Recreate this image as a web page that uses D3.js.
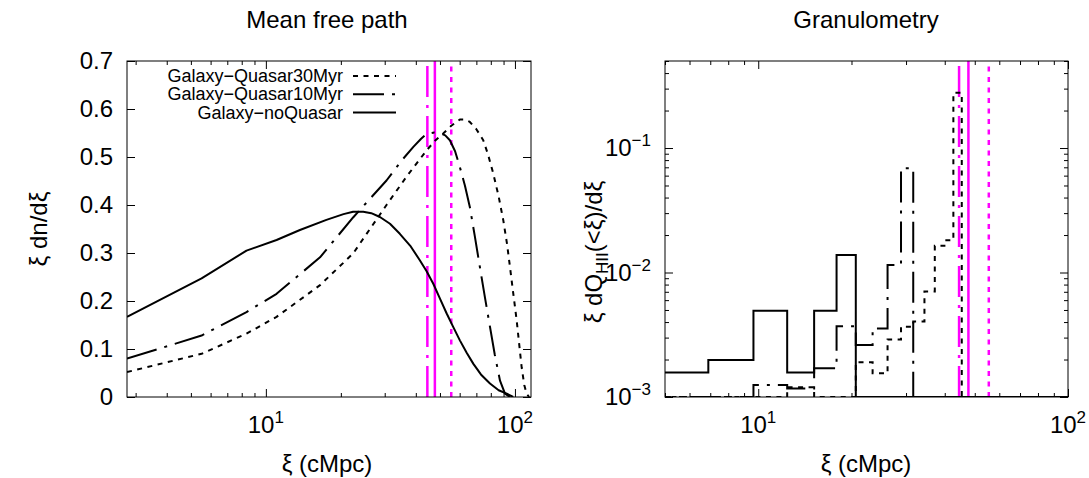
<!DOCTYPE html>
<html><head><meta charset="utf-8">
<script src="https://cdn.jsdelivr.net/npm/d3@7"></script>
<style>
body{margin:0;background:#fff}
text{font-family:"Liberation Sans",Arial,Helvetica,sans-serif;fill:#000}
</style>
</head><body>
<svg id="c" width="1089" height="478" xmlns="http://www.w3.org/2000/svg"></svg>
<script>
// ---------------- DATA ----------------
const seriesNames = ["Galaxy\u2212Quasar30Myr", "Galaxy\u2212Quasar10Myr", "Galaxy\u2212noQuasar"];

// Left panel: Mean free path distribution  (xi in cMpc, xi dn/dxi)
const mfpXRange = [2.77, 116];
const mfpYTicks = [0, 0.1, 0.2, 0.3, 0.4, 0.5, 0.6, 0.7];
const mfpXMajor = [10, 100];
const mfpXMinor = [3, 4, 5, 6, 7, 8, 9, 20, 30, 40, 50, 60, 70, 80, 90];

const q30X = [2.77, 5.52, 8.36, 11.04, 16.5, 22.4, 30.5, 36.7, 44.2, 48, 51.5, 55.5, 60.1, 63, 65.9, 70, 74.6, 78, 81.8, 86, 89.8, 93, 95.5, 98.5, 101.6, 104, 106.4, 109, 111.4, 114];
const q30Y = [0.052, 0.090, 0.132, 0.167, 0.233, 0.299, 0.400, 0.459, 0.514, 0.535, 0.549, 0.565, 0.578, 0.578, 0.573, 0.558, 0.535, 0.505, 0.466, 0.418, 0.368, 0.318, 0.271, 0.215, 0.160, 0.110, 0.062, 0.025, 0.007, 0];

const q10X = [2.77, 5.52, 8.36, 11.04, 16.5, 22.4, 30.5, 35, 39.1, 42, 44.2, 47.5, 50, 52.5, 54.8, 57.5, 60.1, 63, 65.9, 69, 72.3, 75.8, 79.4, 83, 87.1, 91.2, 95.5];
const q10Y = [0.080, 0.128, 0.177, 0.215, 0.291, 0.374, 0.451, 0.492, 0.521, 0.538, 0.548, 0.551, 0.550, 0.545, 0.535, 0.512, 0.479, 0.440, 0.396, 0.335, 0.271, 0.207, 0.146, 0.088, 0.034, 0.007, 0];

const noqX = [2.77, 5.52, 8.36, 11.04, 13.7, 17.5, 20.5, 22.4, 24.6, 26.5, 28.7, 31.5, 34.5, 38, 41.5, 44.2, 47, 50, 53.2, 56.5, 60.1, 64, 68.1, 73, 79.4, 86, 92.7, 98.4];
const noqY = [0.167, 0.247, 0.305, 0.327, 0.348, 0.369, 0.381, 0.386, 0.386, 0.383, 0.375, 0.361, 0.340, 0.315, 0.285, 0.262, 0.236, 0.205, 0.174, 0.146, 0.118, 0.092, 0.069, 0.047, 0.028, 0.014, 0.007, 0];

// Mean free path values (vertical magenta markers): 10Myr, noQuasar, 30Myr
const mfpMarkers = [44.5, 47.7, 55.5];
const mfpMarkerStyle = ["q10", "noq", "q30"];

// Right panel: Granulometry  (xi in cMpc, xi dQ_HII(<xi)/dxi), histogram bins
const granXRange = [5, 100];
const granYRange = [1e-3, 0.5];
const granXMajor = [10, 100];
const granXMinor = [5, 6, 7, 8, 9, 20, 30, 40, 50, 60, 70, 80, 90];
const granYMajor = [1e-3, 1e-2, 1e-1];
const granYMinor = [2e-3, 3e-3, 4e-3, 5e-3, 6e-3, 7e-3, 8e-3, 9e-3, 2e-2, 3e-2, 4e-2, 5e-2, 6e-2, 7e-2, 8e-2, 9e-2, 0.2, 0.3, 0.4, 0.5];
const granEdges = [4.15, 6.9, 9.65, 12.4, 15.15, 17.9, 20.65, 23.4, 26.15, 28.9, 31.65, 34.4, 37.15, 39.9, 42.65, 45.4, 48.15, 100];
const gran30 = [0, 0, 0, 1.2e-3, 0, 0, 1.9e-3, 1.55e-3, 2.9e-3, 3.67e-3, 4.05e-3, 7.05e-3, 0.0164, 0.0182, 0.278, 0, 0];
const gran10 = [0, 0, 1.25e-3, 1.17e-3, 1.7e-3, 3.7e-3, 2.62e-3, 3.55e-3, 0.0115, 0.0687, 0, 0, 0, 0, 0, 0, 0];
const granNoq = [1.57e-3, 1.98e-3, 4.93e-3, 1.57e-3, 4.93e-3, 0.0138, 0, 0, 0, 0, 0, 0, 0, 0, 0, 0, 0];

// ---------------- STYLE ----------------
const FONT = 24, SUP = 17, LEG = 18;
const dashes = { q30: "5,5.5", q10: "31,8,3,8", noq: null };
const magenta = "#ff00ff";

const svg = d3.select("#c");
const defs = svg.append("defs");

function supLabel(g, x, y, base, sup, anchor) {
  const t = g.append("text").attr("x", x).attr("y", y).attr("font-size", FONT).attr("text-anchor", anchor);
  t.append("tspan").text(base);
  t.append("tspan").attr("font-size", SUP).attr("dy", -10).text(sup);
  return t;
}

function ticks(g, xs, ys, xMaj, xMin, yMaj, yMin) {
  const [X0, X1] = xs.range(), [Y1, Y0] = ys.range();
  const mk = (axis, tr) => {
    const a = g.append("g").attr("transform", tr).call(axis);
    a.selectAll("text").remove();
    a.select(".domain").remove();
    a.selectAll("line").attr("stroke", "#000").attr("stroke-width", 1);
  };
  mk(d3.axisBottom(xs).tickValues(xMaj).tickSize(-8).tickFormat(""), `translate(0,${Y1})`);
  mk(d3.axisBottom(xs).tickValues(xMin).tickSize(-4).tickFormat(""), `translate(0,${Y1})`);
  mk(d3.axisTop(xs).tickValues(xMaj).tickSize(-8).tickFormat(""), `translate(0,${Y0})`);
  mk(d3.axisTop(xs).tickValues(xMin).tickSize(-4).tickFormat(""), `translate(0,${Y0})`);
  mk(d3.axisLeft(ys).tickValues(yMaj).tickSize(-8).tickFormat(""), `translate(${X0},0)`);
  mk(d3.axisRight(ys).tickValues(yMaj).tickSize(-8).tickFormat(""), `translate(${X1},0)`);
  if (yMin) {
    mk(d3.axisLeft(ys).tickValues(yMin).tickSize(-4).tickFormat(""), `translate(${X0},0)`);
    mk(d3.axisRight(ys).tickValues(yMin).tickSize(-4).tickFormat(""), `translate(${X1},0)`);
  }
}

function frame(g, xs, ys) {
  const [X0, X1] = xs.range(), [Y1, Y0] = ys.range();
  g.append("rect").attr("x", X0).attr("y", Y0).attr("width", X1 - X0).attr("height", Y1 - Y0)
    .attr("fill", "none").attr("stroke", "#000").attr("stroke-width", 1);
}

function clip(id, xs, ys) {
  const [X0, X1] = xs.range(), [Y1, Y0] = ys.range();
  defs.append("clipPath").attr("id", id).append("rect").attr("x", X0).attr("y", Y0).attr("width", X1 - X0).attr("height", Y1 - Y0);
}

// ---------------- LEFT PANEL ----------------
const xL = d3.scaleLog().domain(mfpXRange).range([127, 531]);
const yL = d3.scaleLinear().domain([0, 0.7]).range([397, 61]);
const gL = svg.append("g");
clip("clipL", xL, yL);

const pL = gL.append("g").attr("clip-path", "url(#clipL)");
const lineL = d3.line().x(d => xL(d[0])).y(d => yL(d[1])).curve(d3.curveLinear);
const mfpSeries = [
  { key: "q30", x: q30X, y: q30Y },
  { key: "q10", x: q10X, y: q10Y },
  { key: "noq", x: noqX, y: noqY }
];
mfpMarkers.forEach((v, i) => {
  pL.append("line").attr("x1", xL(v)).attr("x2", xL(v)).attr("y1", yL.range()[0]).attr("y2", yL.range()[1])
    .attr("stroke", magenta).attr("stroke-width", 2.5).attr("stroke-dasharray", dashes[mfpMarkerStyle[i]]);
});
mfpSeries.forEach(s => {
  pL.append("path").attr("d", lineL(s.x.map((x, i) => [x, s.y[i]])))
    .attr("fill", "none").attr("stroke", "#000").attr("stroke-width", 2)
    .attr("stroke-linejoin", "round")
    .attr("stroke-dasharray", dashes[s.key]);
});
ticks(gL, xL, yL, mfpXMajor, mfpXMinor, mfpYTicks, null);
frame(gL, xL, yL);

mfpYTicks.forEach(v => {
  gL.append("text").attr("x", 113).attr("y", yL(v)).attr("dy", "0.35em").attr("font-size", FONT)
    .attr("text-anchor", "end").text(v === 0 ? "0" : d3.format(".1f")(v));
});
mfpXMajor.forEach(v => supLabel(gL, xL(v), 433, "10", String(Math.round(Math.log10(v))), "middle"));

gL.append("text").attr("x", 327).attr("y", 28).attr("font-size", FONT).attr("text-anchor", "middle").text("Mean free path");
gL.append("text").attr("x", 327).attr("y", 472).attr("font-size", FONT).attr("text-anchor", "middle").text("\u03be (cMpc)");
gL.append("text").attr("transform", "translate(47,229) rotate(-90)").attr("font-size", FONT).attr("text-anchor", "middle").text("\u03be dn/d\u03be");

// legend
const legKeys = ["q30", "q10", "noq"];
legKeys.forEach((k, i) => {
  const by = 82 + i * 18.3;
  gL.append("text").attr("x", 343).attr("y", by).attr("font-size", LEG).attr("text-anchor", "end").text(seriesNames[i]);
  gL.append("line").attr("x1", 353).attr("x2", 396).attr("y1", by - 6).attr("y2", by - 6)
    .attr("stroke", "#000").attr("stroke-width", 2).attr("stroke-dasharray", dashes[k]);
});

// ---------------- RIGHT PANEL ----------------
const xR = d3.scaleLog().domain(granXRange).range([665, 1068]);
const yR = d3.scaleLog().domain(granYRange).range([397, 61]).clamp(true);
const gR = svg.append("g");
clip("clipR", xR, yR);
const pR = gR.append("g").attr("clip-path", "url(#clipR)");

const stepLine = d3.line().x(d => xR(d[0])).y(d => yR(Math.max(d[1], granYRange[0]))).curve(d3.curveStepAfter);
function stepPts(vals) {
  const pts = vals.map((v, i) => [granEdges[i], v]);
  pts.push([granEdges[vals.length], vals[vals.length - 1]]);
  return pts;
}
mfpMarkers.forEach((v, i) => {
  pR.append("line").attr("x1", xR(v)).attr("x2", xR(v)).attr("y1", 397).attr("y2", 61)
    .attr("stroke", magenta).attr("stroke-width", 2.5).attr("stroke-dasharray", dashes[mfpMarkerStyle[i]]);
});
[{ key: "q30", v: gran30 }, { key: "q10", v: gran10 }, { key: "noq", v: granNoq }].forEach(s => {
  pR.append("path").attr("d", stepLine(stepPts(s.v)))
    .attr("fill", "none").attr("stroke", "#000").attr("stroke-width", 2)
    .attr("stroke-dasharray", dashes[s.key]);
});
ticks(gR, xR, yR, granXMajor, granXMinor, granYMajor, granYMinor);
frame(gR, xR, yR);

granYMajor.forEach(v => supLabel(gR, 651, yR(v) + 8, "10", "\u2212" + String(-Math.round(Math.log10(v))), "end"));
granXMajor.forEach(v => supLabel(gR, xR(v), 433, "10", String(Math.round(Math.log10(v))), "middle"));

gR.append("text").attr("x", 866).attr("y", 28).attr("font-size", FONT).attr("text-anchor", "middle").text("Granulometry");
gR.append("text").attr("x", 866).attr("y", 472).attr("font-size", FONT).attr("text-anchor", "middle").text("\u03be (cMpc)");
const yl = gR.append("text").attr("transform", "translate(602,252) rotate(-90)").attr("font-size", FONT).attr("text-anchor", "middle");
yl.append("tspan").text("\u03be dQ");
yl.append("tspan").attr("font-size", SUP).attr("dy", 6).text("HII");
yl.append("tspan").attr("dy", -6).text("(<\u03be)/d\u03be");
</script>
</body></html>
